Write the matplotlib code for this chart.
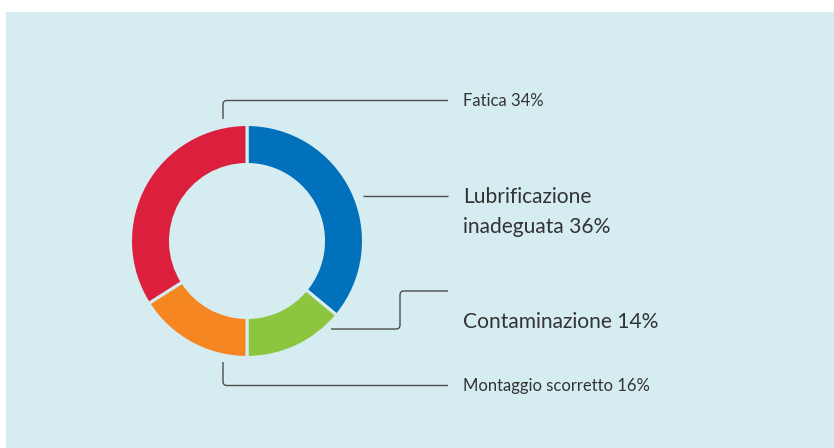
import matplotlib
matplotlib.use("Agg")
import matplotlib.pyplot as plt
from matplotlib.patches import Rectangle, PathPatch
from matplotlib.path import Path
import numpy as np

# data
labels = ["Lubrificazione\ninadeguata 36%", "Contaminazione 14%", "Montaggio scorretto 16%", "Fatica 34%"]
values = [36, 14, 16, 34]
colors = ["#0071ba", "#8cc63f", "#f58621", "#db1f3d"]

W, H = 834, 448
fig = plt.figure(figsize=(W / 100, H / 100), dpi=100, facecolor="white")
ax = fig.add_axes([0, 0, 1, 1])

bg = "#d5edf1"

def Y(py):
    return H - py

cx, cy, R, w = 247, Y(241), 116.5, 40
ax.pie(values, colors=colors, startangle=90, counterclock=False,
       center=(cx, cy), radius=R, frame=True,
       wedgeprops=dict(width=w, edgecolor=bg, linewidth=2.2))
ax.set_xlim(0, W)
ax.set_ylim(0, H)
ax.set_aspect("equal")
ax.axis("off")
ax.add_patch(Rectangle((6, 0), W - 6, H - 12, color=bg, zorder=0))

lc = "#4d4d4d"
lw = 1.0

def rounded_path(pts, r=4):
    pts = [np.array([x, Y(y)], float) for x, y in pts]
    verts = [pts[0]]
    codes = [Path.MOVETO]
    for i in range(1, len(pts) - 1):
        p0, p1, p2 = pts[i - 1], pts[i], pts[i + 1]
        d1 = (p1 - p0) / np.linalg.norm(p1 - p0)
        d2 = (p2 - p1) / np.linalg.norm(p2 - p1)
        verts += [p1 - d1 * r, p1, p1 + d2 * r]
        codes += [Path.LINETO, Path.CURVE3, Path.CURVE3]
    verts.append(pts[-1])
    codes.append(Path.LINETO)
    ax.add_patch(PathPatch(Path(verts, codes), fill=False, edgecolor=lc, lw=lw, zorder=3))

# leader lines
rounded_path([(223, 119), (223, 100.5), (448, 100.5)])
rounded_path([(363, 196), (448, 196)])
rounded_path([(331, 329), (400, 329), (400, 291), (448, 291)])
rounded_path([(223, 362), (223, 385.5), (448, 385.5)])

tc = "#333333"
font = "Lato"
tx = 463
ax.text(tx, Y(101), labels[3], fontsize=12, color=tc, family=font, va="center", ha="left")
ax.text(tx, Y(212), labels[0], fontsize=15.1, color=tc, family=font, va="center", ha="left",
        linespacing=1.6)
ax.text(tx, Y(322), labels[1], fontsize=15.1, color=tc, family=font, va="center", ha="left")
ax.text(tx, Y(386), labels[2], fontsize=12, color=tc, family=font, va="center", ha="left")

fig.savefig("out.png", dpi=100, facecolor="white")
